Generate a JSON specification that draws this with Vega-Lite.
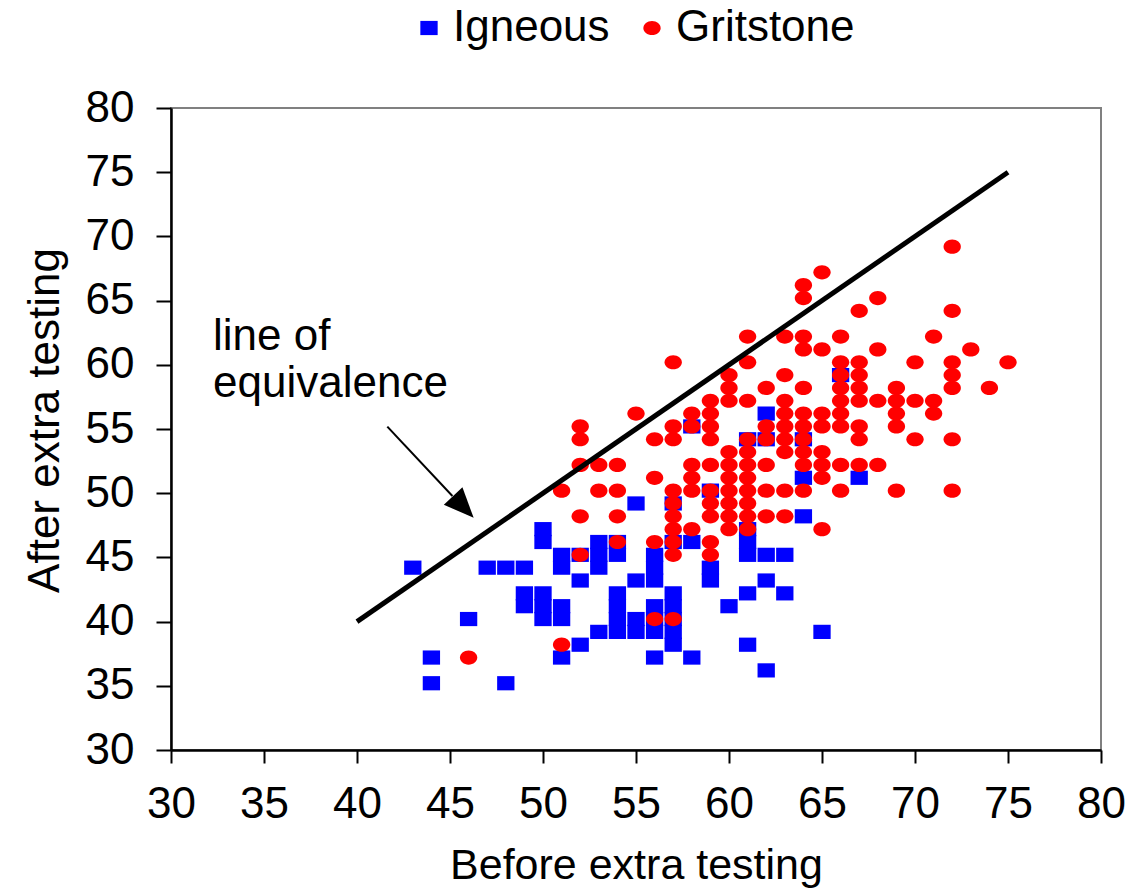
{
  "$schema": "https://vega.github.io/schema/vega-lite/v6.json",
  "width": 930,
  "height": 642,
  "autosize": {"type": "none"},
  "padding": {"left": 171, "top": 108, "right": 27, "bottom": 140},
  "background": "white",
  "config": {"font": "Liberation Sans", "view": {"stroke": "#808080", "strokeWidth": 2}},
  "layer": [
    {
      "data": {"values": [
        {"Before":43,"After":44.2,"Type":"Igneous"},{"Before":44,"After":37.2,"Type":"Igneous"},{"Before":44,"After":35.2,"Type":"Igneous"},{"Before":46,"After":40.2,"Type":"Igneous"},{"Before":47,"After":44.2,"Type":"Igneous"},{"Before":48,"After":44.2,"Type":"Igneous"},{"Before":48,"After":35.2,"Type":"Igneous"},{"Before":49,"After":44.2,"Type":"Igneous"},{"Before":49,"After":42.2,"Type":"Igneous"},{"Before":49,"After":41.2,"Type":"Igneous"},
        {"Before":50,"After":47.2,"Type":"Igneous"},{"Before":50,"After":46.2,"Type":"Igneous"},{"Before":50,"After":42.2,"Type":"Igneous"},{"Before":50,"After":41.2,"Type":"Igneous"},{"Before":50,"After":40.2,"Type":"Igneous"},{"Before":51,"After":45.2,"Type":"Igneous"},{"Before":51,"After":44.2,"Type":"Igneous"},{"Before":51,"After":41.2,"Type":"Igneous"},{"Before":51,"After":40.2,"Type":"Igneous"},{"Before":51,"After":37.2,"Type":"Igneous"},
        {"Before":52,"After":45.2,"Type":"Igneous"},{"Before":52,"After":43.2,"Type":"Igneous"},{"Before":52,"After":38.2,"Type":"Igneous"},{"Before":53,"After":46.2,"Type":"Igneous"},{"Before":53,"After":45.2,"Type":"Igneous"},{"Before":53,"After":44.2,"Type":"Igneous"},{"Before":53,"After":39.2,"Type":"Igneous"},{"Before":54,"After":46.2,"Type":"Igneous"},{"Before":54,"After":45.2,"Type":"Igneous"},{"Before":54,"After":42.2,"Type":"Igneous"},
        {"Before":54,"After":41.2,"Type":"Igneous"},{"Before":54,"After":40.2,"Type":"Igneous"},{"Before":54,"After":39.2,"Type":"Igneous"},{"Before":55,"After":49.2,"Type":"Igneous"},{"Before":55,"After":43.2,"Type":"Igneous"},{"Before":55,"After":40.2,"Type":"Igneous"},{"Before":55,"After":39.2,"Type":"Igneous"},{"Before":56,"After":45.2,"Type":"Igneous"},{"Before":56,"After":44.2,"Type":"Igneous"},{"Before":56,"After":43.2,"Type":"Igneous"},
        {"Before":56,"After":41.2,"Type":"Igneous"},{"Before":56,"After":40.2,"Type":"Igneous"},{"Before":56,"After":39.2,"Type":"Igneous"},{"Before":56,"After":37.2,"Type":"Igneous"},{"Before":57,"After":49.2,"Type":"Igneous"},{"Before":57,"After":46.2,"Type":"Igneous"},{"Before":57,"After":42.2,"Type":"Igneous"},{"Before":57,"After":41.2,"Type":"Igneous"},{"Before":57,"After":40.2,"Type":"Igneous"},{"Before":57,"After":39.2,"Type":"Igneous"},
        {"Before":57,"After":38.2,"Type":"Igneous"},{"Before":58,"After":55.2,"Type":"Igneous"},{"Before":58,"After":46.2,"Type":"Igneous"},{"Before":58,"After":37.2,"Type":"Igneous"},{"Before":59,"After":50.2,"Type":"Igneous"},{"Before":59,"After":44.2,"Type":"Igneous"},{"Before":59,"After":43.2,"Type":"Igneous"},{"Before":60,"After":41.2,"Type":"Igneous"},{"Before":61,"After":54.2,"Type":"Igneous"},{"Before":61,"After":47.2,"Type":"Igneous"},
        {"Before":61,"After":46.2,"Type":"Igneous"},{"Before":61,"After":45.2,"Type":"Igneous"},{"Before":61,"After":42.2,"Type":"Igneous"},{"Before":61,"After":38.2,"Type":"Igneous"},{"Before":62,"After":56.2,"Type":"Igneous"},{"Before":62,"After":54.2,"Type":"Igneous"},{"Before":62,"After":45.2,"Type":"Igneous"},{"Before":62,"After":43.2,"Type":"Igneous"},{"Before":62,"After":36.2,"Type":"Igneous"},{"Before":63,"After":45.2,"Type":"Igneous"},
        {"Before":63,"After":42.2,"Type":"Igneous"},{"Before":64,"After":54.2,"Type":"Igneous"},{"Before":64,"After":51.2,"Type":"Igneous"},{"Before":64,"After":48.2,"Type":"Igneous"},{"Before":65,"After":39.2,"Type":"Igneous"},{"Before":66,"After":59.2,"Type":"Igneous"},{"Before":67,"After":51.2,"Type":"Igneous"},
        {"Before":46,"After":37.2,"Type":"Gritstone"},{"Before":51,"After":50.2,"Type":"Gritstone"},{"Before":51,"After":38.2,"Type":"Gritstone"},{"Before":52,"After":55.2,"Type":"Gritstone"},{"Before":52,"After":54.2,"Type":"Gritstone"},{"Before":52,"After":52.2,"Type":"Gritstone"},{"Before":52,"After":48.2,"Type":"Gritstone"},{"Before":52,"After":45.2,"Type":"Gritstone"},{"Before":53,"After":52.2,"Type":"Gritstone"},{"Before":53,"After":50.2,"Type":"Gritstone"},
        {"Before":54,"After":52.2,"Type":"Gritstone"},{"Before":54,"After":50.2,"Type":"Gritstone"},{"Before":54,"After":48.2,"Type":"Gritstone"},{"Before":54,"After":46.2,"Type":"Gritstone"},{"Before":55,"After":56.2,"Type":"Gritstone"},{"Before":56,"After":54.2,"Type":"Gritstone"},{"Before":56,"After":51.2,"Type":"Gritstone"},{"Before":56,"After":46.2,"Type":"Gritstone"},{"Before":56,"After":40.2,"Type":"Gritstone"},{"Before":57,"After":60.2,"Type":"Gritstone"},
        {"Before":57,"After":55.2,"Type":"Gritstone"},{"Before":57,"After":54.2,"Type":"Gritstone"},{"Before":57,"After":50.2,"Type":"Gritstone"},{"Before":57,"After":49.2,"Type":"Gritstone"},{"Before":57,"After":48.2,"Type":"Gritstone"},{"Before":57,"After":47.2,"Type":"Gritstone"},{"Before":57,"After":46.2,"Type":"Gritstone"},{"Before":57,"After":45.2,"Type":"Gritstone"},{"Before":57,"After":40.2,"Type":"Gritstone"},{"Before":58,"After":56.2,"Type":"Gritstone"},
        {"Before":58,"After":55.2,"Type":"Gritstone"},{"Before":58,"After":52.2,"Type":"Gritstone"},{"Before":58,"After":51.2,"Type":"Gritstone"},{"Before":58,"After":50.2,"Type":"Gritstone"},{"Before":58,"After":47.2,"Type":"Gritstone"},{"Before":59,"After":57.2,"Type":"Gritstone"},{"Before":59,"After":56.2,"Type":"Gritstone"},{"Before":59,"After":55.2,"Type":"Gritstone"},{"Before":59,"After":54.2,"Type":"Gritstone"},{"Before":59,"After":52.2,"Type":"Gritstone"},
        {"Before":59,"After":50.2,"Type":"Gritstone"},{"Before":59,"After":49.2,"Type":"Gritstone"},{"Before":59,"After":48.2,"Type":"Gritstone"},{"Before":59,"After":46.2,"Type":"Gritstone"},{"Before":59,"After":45.2,"Type":"Gritstone"},{"Before":60,"After":59.2,"Type":"Gritstone"},{"Before":60,"After":58.2,"Type":"Gritstone"},{"Before":60,"After":57.2,"Type":"Gritstone"},{"Before":60,"After":53.2,"Type":"Gritstone"},{"Before":60,"After":52.2,"Type":"Gritstone"},
        {"Before":60,"After":51.2,"Type":"Gritstone"},{"Before":60,"After":50.2,"Type":"Gritstone"},{"Before":60,"After":49.2,"Type":"Gritstone"},{"Before":60,"After":48.2,"Type":"Gritstone"},{"Before":60,"After":47.2,"Type":"Gritstone"},{"Before":61,"After":62.2,"Type":"Gritstone"},{"Before":61,"After":60.2,"Type":"Gritstone"},{"Before":61,"After":57.2,"Type":"Gritstone"},{"Before":61,"After":54.2,"Type":"Gritstone"},{"Before":61,"After":53.2,"Type":"Gritstone"},
        {"Before":61,"After":52.2,"Type":"Gritstone"},{"Before":61,"After":51.2,"Type":"Gritstone"},{"Before":61,"After":50.2,"Type":"Gritstone"},{"Before":61,"After":49.2,"Type":"Gritstone"},{"Before":61,"After":48.2,"Type":"Gritstone"},{"Before":61,"After":47.2,"Type":"Gritstone"},{"Before":62,"After":58.2,"Type":"Gritstone"},{"Before":62,"After":55.2,"Type":"Gritstone"},{"Before":62,"After":54.2,"Type":"Gritstone"},{"Before":62,"After":52.2,"Type":"Gritstone"},
        {"Before":62,"After":50.2,"Type":"Gritstone"},{"Before":62,"After":48.2,"Type":"Gritstone"},{"Before":63,"After":62.2,"Type":"Gritstone"},{"Before":63,"After":59.2,"Type":"Gritstone"},{"Before":63,"After":57.2,"Type":"Gritstone"},{"Before":63,"After":56.2,"Type":"Gritstone"},{"Before":63,"After":55.2,"Type":"Gritstone"},{"Before":63,"After":54.2,"Type":"Gritstone"},{"Before":63,"After":53.2,"Type":"Gritstone"},{"Before":63,"After":50.2,"Type":"Gritstone"},
        {"Before":63,"After":48.2,"Type":"Gritstone"},{"Before":64,"After":66.2,"Type":"Gritstone"},{"Before":64,"After":65.2,"Type":"Gritstone"},{"Before":64,"After":62.2,"Type":"Gritstone"},{"Before":64,"After":61.2,"Type":"Gritstone"},{"Before":64,"After":58.2,"Type":"Gritstone"},{"Before":64,"After":56.2,"Type":"Gritstone"},{"Before":64,"After":55.2,"Type":"Gritstone"},{"Before":64,"After":54.2,"Type":"Gritstone"},{"Before":64,"After":53.2,"Type":"Gritstone"},
        {"Before":64,"After":52.2,"Type":"Gritstone"},{"Before":64,"After":50.2,"Type":"Gritstone"},{"Before":65,"After":67.2,"Type":"Gritstone"},{"Before":65,"After":61.2,"Type":"Gritstone"},{"Before":65,"After":56.2,"Type":"Gritstone"},{"Before":65,"After":55.2,"Type":"Gritstone"},{"Before":65,"After":53.2,"Type":"Gritstone"},{"Before":65,"After":52.2,"Type":"Gritstone"},{"Before":65,"After":51.2,"Type":"Gritstone"},{"Before":65,"After":47.2,"Type":"Gritstone"},
        {"Before":66,"After":62.2,"Type":"Gritstone"},{"Before":66,"After":60.2,"Type":"Gritstone"},{"Before":66,"After":59.2,"Type":"Gritstone"},{"Before":66,"After":58.2,"Type":"Gritstone"},{"Before":66,"After":57.2,"Type":"Gritstone"},{"Before":66,"After":56.2,"Type":"Gritstone"},{"Before":66,"After":55.2,"Type":"Gritstone"},{"Before":66,"After":52.2,"Type":"Gritstone"},{"Before":66,"After":50.2,"Type":"Gritstone"},{"Before":67,"After":64.2,"Type":"Gritstone"},
        {"Before":67,"After":60.2,"Type":"Gritstone"},{"Before":67,"After":59.2,"Type":"Gritstone"},{"Before":67,"After":58.2,"Type":"Gritstone"},{"Before":67,"After":57.2,"Type":"Gritstone"},{"Before":67,"After":55.2,"Type":"Gritstone"},{"Before":67,"After":54.2,"Type":"Gritstone"},{"Before":67,"After":52.2,"Type":"Gritstone"},{"Before":68,"After":65.2,"Type":"Gritstone"},{"Before":68,"After":61.2,"Type":"Gritstone"},{"Before":68,"After":57.2,"Type":"Gritstone"},
        {"Before":68,"After":52.2,"Type":"Gritstone"},{"Before":69,"After":58.2,"Type":"Gritstone"},{"Before":69,"After":57.2,"Type":"Gritstone"},{"Before":69,"After":56.2,"Type":"Gritstone"},{"Before":69,"After":55.2,"Type":"Gritstone"},{"Before":69,"After":50.2,"Type":"Gritstone"},{"Before":70,"After":60.2,"Type":"Gritstone"},{"Before":70,"After":57.2,"Type":"Gritstone"},{"Before":70,"After":54.2,"Type":"Gritstone"},{"Before":71,"After":62.2,"Type":"Gritstone"},
        {"Before":71,"After":57.2,"Type":"Gritstone"},{"Before":71,"After":56.2,"Type":"Gritstone"},{"Before":72,"After":69.2,"Type":"Gritstone"},{"Before":72,"After":64.2,"Type":"Gritstone"},{"Before":72,"After":60.2,"Type":"Gritstone"},{"Before":72,"After":59.2,"Type":"Gritstone"},{"Before":72,"After":58.2,"Type":"Gritstone"},{"Before":72,"After":54.2,"Type":"Gritstone"},{"Before":72,"After":50.2,"Type":"Gritstone"},{"Before":73,"After":61.2,"Type":"Gritstone"},
        {"Before":74,"After":58.2,"Type":"Gritstone"},{"Before":75,"After":60.2,"Type":"Gritstone"}
      ]},
      "mark": {"type": "point", "filled": true, "opacity": 1, "size": 300, "strokeWidth": 0},
      "encoding": {
        "x": {"field": "Before", "type": "quantitative", "title": "Before extra testing",
          "scale": {"domain": [30, 80], "nice": false, "zero": false},
          "axis": {"values": [30,35,40,45,50,55,60,65,70,75,80], "grid": false, "domainColor": "black", "domainWidth": 2.5, "tickColor": "black", "tickWidth": 2, "tickSize": 13, "labelFontSize": 44, "labelColor": "black", "labelPadding": 19, "labelFlush": false, "labelOverlap": false, "titleFontSize": 43, "titleFontWeight": "normal", "titleColor": "black", "titlePadding": 18}},
        "y": {"field": "After", "type": "quantitative", "title": "After extra testing",
          "scale": {"domain": [30, 80], "nice": false, "zero": false},
          "axis": {"values": [30,35,40,45,50,55,60,65,70,75,80], "grid": false, "domainColor": "black", "domainWidth": 2.5, "tickColor": "black", "tickWidth": 2, "tickSize": 15, "labelFontSize": 44, "labelColor": "black", "labelPadding": 22, "labelFlush": false, "labelOverlap": false, "titleFontSize": 44, "titleFontWeight": "normal", "titleColor": "black", "titlePadding": 18, "titleY": 312}},
        "color": {"field": "Type", "type": "nominal",
          "scale": {"domain": ["Igneous", "Gritstone"], "range": ["#0000FF", "#FF0000"]},
          "legend": {"title": null, "orient": "none", "legendX": 236, "legendY": -102, "direction": "horizontal", "labelFontSize": 44, "labelColor": "black", "labelLimit": 0, "symbolSize": 300, "symbolStrokeWidth": 0, "labelOffset": 2, "columnPadding": 20, "padding": 0}},
        "shape": {"field": "Type", "type": "nominal",
          "scale": {"domain": ["Igneous", "Gritstone"], "range": ["M-1,-0.82H1V0.82H-1Z", "M-1,0A1,0.82,0,1,1,1,0A1,0.82,0,1,1,-1,0Z"]},
          "legend": {"title": null, "orient": "none", "legendX": 236, "legendY": -102, "direction": "horizontal", "labelFontSize": 44, "labelColor": "black", "labelLimit": 0, "symbolSize": 300, "symbolStrokeWidth": 0, "labelOffset": 2, "columnPadding": 20, "padding": 0}}
      }
    },
    {
      "data": {"values": [{"Before": 40, "After": 40}, {"Before": 75, "After": 75}]},
      "mark": {"type": "line", "color": "black", "strokeWidth": 5},
      "encoding": {
        "x": {"field": "Before", "type": "quantitative", "title": "Before extra testing"},
        "y": {"field": "After", "type": "quantitative", "title": "After extra testing"}
      }
    },
    {
      "data": {"values": [{"Before": 41.63, "After": 55.18, "Before2": 45.13, "After2": 49.78}]},
      "mark": {"type": "rule", "color": "black", "strokeWidth": 2},
      "encoding": {
        "x": {"field": "Before", "type": "quantitative", "title": "Before extra testing"},
        "y": {"field": "After", "type": "quantitative", "title": "After extra testing"},
        "x2": {"field": "Before2"},
        "y2": {"field": "After2"}
      }
    },
    {
      "data": {"values": [{"Before": 45.72, "After": 48.93}]},
      "mark": {"type": "point", "filled": true, "color": "black", "opacity": 1, "size": 900, "shape": "M1,0L-1,-0.85L-1,0.85Z", "angle": 46.8, "strokeWidth": 0},
      "encoding": {
        "x": {"field": "Before", "type": "quantitative", "title": "Before extra testing"},
        "y": {"field": "After", "type": "quantitative", "title": "After extra testing"}
      }
    },
    {
      "data": {"values": [{"Before": 32.26, "After": 61.15, "label": "line of"}, {"Before": 32.26, "After": 57.5, "label": "equivalence"}]},
      "mark": {"type": "text", "align": "left", "baseline": "alphabetic", "fontSize": 44, "color": "black"},
      "encoding": {
        "x": {"field": "Before", "type": "quantitative", "title": "Before extra testing"},
        "y": {"field": "After", "type": "quantitative", "title": "After extra testing"},
        "text": {"field": "label"}
      }
    }
  ]
}
